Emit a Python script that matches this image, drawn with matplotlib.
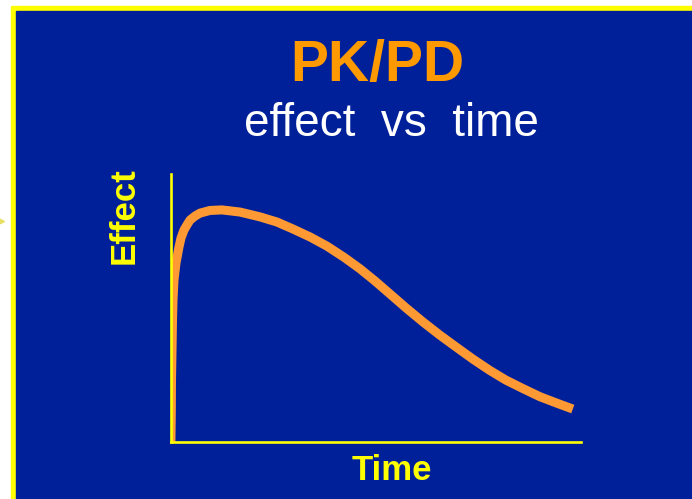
import matplotlib.pyplot as plt
from matplotlib.patches import Rectangle
from matplotlib.lines import Line2D

# effect vs time curve (arbitrary units)
time = [0.01, 0.02, 0.024, 0.037, 0.049, 0.061, 0.085, 0.134, 0.207, 0.256,
        0.329, 0.402, 0.475, 0.597, 0.719, 0.962, 1.255, 1.693, 2.18, 2.59,
        2.98, 3.40, 3.81, 4.23, 4.61, 4.98, 5.35, 5.74, 6.15, 6.56,
        6.98, 7.37, 7.78, 8.17, 8.59, 9.00, 9.41, 9.80]
effect = [0, 11.9, 23.1, 34.3, 45.5, 53.0, 60.4, 66.8, 72.8, 76.1,
          79.1, 81.0, 82.8, 84.3, 85.4, 86.4, 86.6, 85.8, 84.0, 82.1,
          79.5, 76.5, 73.1, 68.9, 64.7, 60.1, 55.2, 50.0, 44.8, 39.9,
          35.2, 30.9, 26.7, 23.1, 19.9, 16.9, 14.5, 12.3]

title = "PK/PD"
subtitle = "effect  vs  time"
xlabel = "Time"
ylabel = "Effect"

W, H = 692, 499
blue = '#00209A'
yellow = '#FFFF00'
orange = '#FF9933'

fig = plt.figure(figsize=(W / 100, H / 100), dpi=100)
fig.patch.set_facecolor('white')

def px(x, y):
    return x / W, 1 - y / H

# yellow frame and blue slide background
fig.add_artist(Rectangle(px(11, H + 10), (W + 10) / W, (H + 10 - 6) / H,
                         transform=fig.transFigure, color=yellow, zorder=0))
fig.add_artist(Rectangle(px(16, H + 10), (W + 10) / W, (H + 10 - 11) / H,
                         transform=fig.transFigure, color=blue, zorder=0))
fig.add_artist(Line2D([1.5 / W], [1 - 221 / H], marker='>', markersize=4,
                      color='#E8E060', transform=fig.transFigure))

plt.rcParams['font.family'] = ['Liberation Sans', 'DejaVu Sans']

l, b = px(170.5, 442)
r, t = px(581, 174)
ax = fig.add_axes([l, b, r - l, t - b])
ax.set_facecolor('none')
ax.plot(time, effect, color=orange, lw=6.5, solid_capstyle='butt',
        solid_joinstyle='round', zorder=2)
ax.set_xlim(0, 10)
ax.set_ylim(0, 100)
for s in ['top', 'right']:
    ax.spines[s].set_visible(False)
for s in ['left', 'bottom']:
    ax.spines[s].set_color(yellow)
    ax.spines[s].set_linewidth(1.9)
    ax.spines[s].set_zorder(3)
ax.set_xticks([])
ax.set_yticks([])

fig.text(*px(377, 66), title, color='#FF9900', fontsize=41, fontweight='bold',
         ha='center', va='center')
fig.text(*px(391, 124), subtitle, color='white', fontsize=33,
         ha='center', va='center')
fig.text(*px(124, 216), ylabel, color=yellow, fontsize=25, fontweight='bold',
         rotation=90, ha='center', va='center')
fig.text(*px(392, 470), xlabel, color=yellow, fontsize=25, fontweight='bold',
         ha='center', va='center')

fig.savefig('out.png', dpi=100)
